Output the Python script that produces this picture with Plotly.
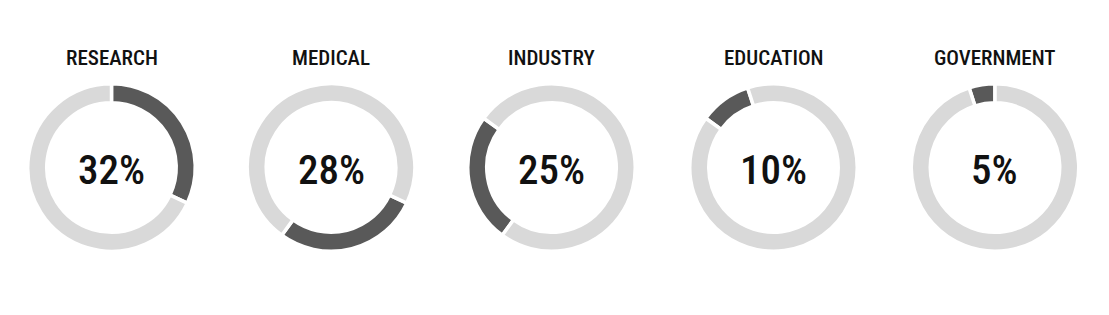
import plotly.graph_objects as go

categories = ["RESEARCH", "MEDICAL", "INDUSTRY", "EDUCATION", "GOVERNMENT"]
shares = [32, 28, 25, 10, 5]
labels = ["32%", "28%", "25%", "10%", "5%"]

W, H = 1109, 315
centers_x = [111.5, 331, 551.5, 773.5, 995]
center_y_top = 167.5
R = 83.75
DARK = "#595959"
LIGHT = "#d9d9d9"
FONT = "Roboto Condensed, Liberation Sans Narrow, DejaVu Sans Condensed, Arial Narrow, sans-serif"

fig = go.Figure()
cum = 0
cy = H - center_y_top
for cat, val, lab, cx in zip(categories, shares, labels, centers_x):
    fig.add_trace(go.Pie(
        values=[val, 100 - val],
        labels=[cat, "Other"],
        marker=dict(colors=[DARK, LIGHT], line=dict(color="white", width=3.5)),
        hole=0.773,
        sort=False,
        direction="clockwise",
        rotation=360 * cum / 100,
        textinfo="none",
        hoverinfo="label+percent",
        showlegend=False,
        domain=dict(x=[(cx - R) / W, (cx + R) / W], y=[(cy - R) / H, (cy + R) / H]),
    ))
    cum += val
    fig.add_annotation(x=cx / W, y=(H - 58) / H, xref="paper", yref="paper",
                       text=cat, showarrow=False, xanchor="center", yanchor="middle",
                       font=dict(family=FONT, size=21, color="#111111", weight=500))
    fig.add_annotation(x=cx / W, y=(H - 170) / H, xref="paper", yref="paper",
                       text=lab, showarrow=False, xanchor="center", yanchor="middle",
                       font=dict(family=FONT, size=41, color="#111111", weight=500))

fig.update_layout(width=W, height=H, margin=dict(l=0, r=0, t=0, b=0),
                  paper_bgcolor="white", plot_bgcolor="white")
fig.write_html("out.html")
